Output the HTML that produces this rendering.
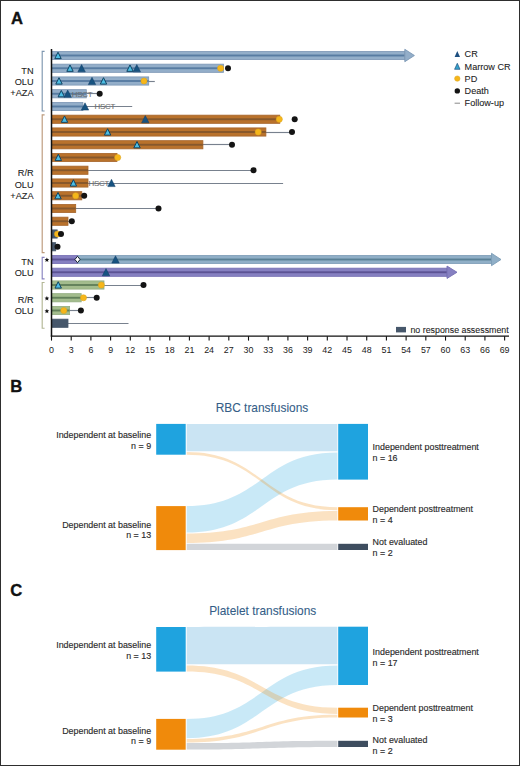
<!DOCTYPE html>
<html><head><meta charset="utf-8"><title>Figure</title>
<style>
html,body{margin:0;padding:0;background:#fff;}
body{width:520px;height:766px;overflow:hidden;}
svg{display:block;font-family:"Liberation Sans", sans-serif;}

</style></head>
<body>
<svg width="520" height="766" viewBox="0 0 520 766">
<rect x="0" y="0" width="520" height="766" fill="#fff"/>
<g id="chartA">
<rect x="51.50" y="51.40" width="353.30" height="8.20" fill="#93aec9" stroke="#7c97b4" stroke-width="0.8"/>
<rect x="51.50" y="54.55" width="353.30" height="1.9" fill="#587ca2"/>
<path d="M404.80,49.30 L414.40,55.50 L404.80,61.70 Z" fill="#93aec9" stroke="#7c97b4" stroke-width="0.9" stroke-linejoin="miter"/>
<path d="M54.80,58.60 L58.00,52.20 L61.20,58.60 Z" fill="#4cbde3" stroke="#0f4464" stroke-width="1.0" stroke-linejoin="miter"/>
<rect x="51.50" y="64.15" width="172.00" height="8.20" fill="#93aec9" stroke="#7c97b4" stroke-width="0.8"/>
<rect x="51.50" y="67.30" width="172.00" height="1.9" fill="#587ca2"/>
<path d="M66.80,71.35 L70.00,64.95 L73.20,71.35 Z" fill="#4cbde3" stroke="#0f4464" stroke-width="1.0" stroke-linejoin="miter"/>
<path d="M77.90,71.85 L81.60,64.55 L85.30,71.85 Z" fill="#175381" stroke="#123f66" stroke-width="0.5"/>
<path d="M126.80,71.35 L130.00,64.95 L133.20,71.35 Z" fill="#4cbde3" stroke="#0f4464" stroke-width="1.0" stroke-linejoin="miter"/>
<path d="M133.10,71.85 L136.80,64.55 L140.50,71.85 Z" fill="#175381" stroke="#123f66" stroke-width="0.5"/>
<circle cx="220.60" cy="68.25" r="3.1" fill="#f6b61a" stroke="#dba41f" stroke-width="0.5"/>
<circle cx="228.00" cy="68.25" r="3.0" fill="#141414"/>
<line x1="148.00" y1="81.50" x2="154.80" y2="81.50" stroke="#78818e" stroke-width="1.15"/>
<rect x="51.50" y="76.90" width="97.20" height="8.20" fill="#93aec9" stroke="#7c97b4" stroke-width="0.8"/>
<rect x="51.50" y="80.05" width="97.20" height="1.9" fill="#587ca2"/>
<path d="M55.80,84.10 L59.00,77.70 L62.20,84.10 Z" fill="#4cbde3" stroke="#0f4464" stroke-width="1.0" stroke-linejoin="miter"/>
<path d="M88.30,84.60 L92.00,77.30 L95.70,84.60 Z" fill="#175381" stroke="#123f66" stroke-width="0.5"/>
<path d="M100.30,84.10 L103.50,77.70 L106.70,84.10 Z" fill="#4cbde3" stroke="#0f4464" stroke-width="1.0" stroke-linejoin="miter"/>
<circle cx="144.00" cy="81.00" r="3.1" fill="#f6b61a" stroke="#dba41f" stroke-width="0.5"/>
<line x1="86.00" y1="93.50" x2="99.70" y2="93.50" stroke="#78818e" stroke-width="1.15"/>
<rect x="51.50" y="89.65" width="34.80" height="8.20" fill="#93aec9" stroke="#7c97b4" stroke-width="0.8"/>
<rect x="51.50" y="92.80" width="34.80" height="1.9" fill="#587ca2"/>
<text x="71.80" y="96.65" font-size="7.9" fill="#6e6e6e" textLength="20.80" stroke="#6e6e6e" stroke-width="0.08">HSCT</text>
<path d="M58.10,96.85 L61.30,90.45 L64.50,96.85 Z" fill="#4cbde3" stroke="#0f4464" stroke-width="1.0" stroke-linejoin="miter"/>
<path d="M64.00,97.35 L67.70,90.05 L71.40,97.35 Z" fill="#175381" stroke="#123f66" stroke-width="0.5"/>
<circle cx="99.70" cy="93.75" r="3.0" fill="#141414"/>
<line x1="82.90" y1="106.50" x2="132.20" y2="106.50" stroke="#78818e" stroke-width="1.15"/>
<rect x="51.50" y="102.40" width="31.40" height="8.20" fill="#93aec9" stroke="#7c97b4" stroke-width="0.8"/>
<rect x="51.50" y="105.55" width="31.40" height="1.9" fill="#587ca2"/>
<text x="94.60" y="109.40" font-size="7.9" fill="#6e6e6e" textLength="20.80" stroke="#6e6e6e" stroke-width="0.08">HSCT</text>
<path d="M81.30,110.10 L85.00,102.80 L88.70,110.10 Z" fill="#175381" stroke="#123f66" stroke-width="0.5"/>
<rect x="51.50" y="115.15" width="228.30" height="8.20" fill="#b9722c" stroke="#a7662c" stroke-width="0.8"/>
<rect x="51.50" y="118.30" width="228.30" height="1.9" fill="#86582c"/>
<path d="M61.30,122.35 L64.50,115.95 L67.70,122.35 Z" fill="#4cbde3" stroke="#0f4464" stroke-width="1.0" stroke-linejoin="miter"/>
<path d="M141.60,122.85 L145.30,115.55 L149.00,122.85 Z" fill="#175381" stroke="#123f66" stroke-width="0.5"/>
<circle cx="279.30" cy="119.25" r="3.1" fill="#f6b61a" stroke="#dba41f" stroke-width="0.5"/>
<circle cx="294.70" cy="119.25" r="3.0" fill="#141414"/>
<line x1="265.90" y1="132.50" x2="292.00" y2="132.50" stroke="#78818e" stroke-width="1.15"/>
<rect x="51.50" y="127.90" width="214.40" height="8.20" fill="#b9722c" stroke="#a7662c" stroke-width="0.8"/>
<rect x="51.50" y="131.05" width="214.40" height="1.9" fill="#86582c"/>
<path d="M104.40,135.10 L107.60,128.70 L110.80,135.10 Z" fill="#4cbde3" stroke="#0f4464" stroke-width="1.0" stroke-linejoin="miter"/>
<circle cx="258.20" cy="132.00" r="3.1" fill="#f6b61a" stroke="#dba41f" stroke-width="0.5"/>
<circle cx="292.00" cy="132.00" r="3.0" fill="#141414"/>
<line x1="202.90" y1="144.50" x2="232.00" y2="144.50" stroke="#78818e" stroke-width="1.15"/>
<rect x="51.50" y="140.65" width="151.40" height="8.20" fill="#b9722c" stroke="#a7662c" stroke-width="0.8"/>
<rect x="51.50" y="143.80" width="151.40" height="1.9" fill="#86582c"/>
<path d="M133.80,147.85 L137.00,141.45 L140.20,147.85 Z" fill="#4cbde3" stroke="#0f4464" stroke-width="1.0" stroke-linejoin="miter"/>
<circle cx="232.00" cy="144.75" r="3.0" fill="#141414"/>
<rect x="51.50" y="153.40" width="65.50" height="8.20" fill="#b9722c" stroke="#a7662c" stroke-width="0.8"/>
<rect x="51.50" y="156.55" width="65.50" height="1.9" fill="#86582c"/>
<path d="M55.10,160.60 L58.30,154.20 L61.50,160.60 Z" fill="#4cbde3" stroke="#0f4464" stroke-width="1.0" stroke-linejoin="miter"/>
<circle cx="117.70" cy="157.50" r="3.1" fill="#f6b61a" stroke="#dba41f" stroke-width="0.5"/>
<line x1="88.00" y1="170.50" x2="253.50" y2="170.50" stroke="#78818e" stroke-width="1.15"/>
<rect x="51.50" y="166.15" width="36.50" height="8.20" fill="#b9722c" stroke="#a7662c" stroke-width="0.8"/>
<rect x="51.50" y="169.30" width="36.50" height="1.9" fill="#86582c"/>
<circle cx="253.50" cy="170.25" r="3.0" fill="#141414"/>
<line x1="88.00" y1="183.50" x2="283.10" y2="183.50" stroke="#78818e" stroke-width="1.15"/>
<rect x="51.50" y="178.90" width="36.50" height="8.20" fill="#b9722c" stroke="#a7662c" stroke-width="0.8"/>
<rect x="51.50" y="182.05" width="36.50" height="1.9" fill="#86582c"/>
<text x="88.60" y="185.90" font-size="7.9" fill="#6e6e6e" textLength="20.80" stroke="#6e6e6e" stroke-width="0.08">HSCT</text>
<path d="M70.20,186.10 L73.40,179.70 L76.60,186.10 Z" fill="#4cbde3" stroke="#0f4464" stroke-width="1.0" stroke-linejoin="miter"/>
<path d="M107.80,186.60 L111.50,179.30 L115.20,186.60 Z" fill="#175381" stroke="#123f66" stroke-width="0.5"/>
<rect x="51.50" y="191.65" width="30.30" height="8.20" fill="#b9722c" stroke="#a7662c" stroke-width="0.8"/>
<rect x="51.50" y="194.80" width="30.30" height="1.9" fill="#86582c"/>
<path d="M54.80,198.85 L58.00,192.45 L61.20,198.85 Z" fill="#4cbde3" stroke="#0f4464" stroke-width="1.0" stroke-linejoin="miter"/>
<circle cx="75.70" cy="195.75" r="3.1" fill="#f6b61a" stroke="#dba41f" stroke-width="0.5"/>
<circle cx="84.20" cy="195.75" r="3.0" fill="#141414"/>
<line x1="75.70" y1="208.50" x2="158.50" y2="208.50" stroke="#78818e" stroke-width="1.15"/>
<rect x="51.50" y="204.40" width="24.20" height="8.20" fill="#b9722c" stroke="#a7662c" stroke-width="0.8"/>
<rect x="51.50" y="207.55" width="24.20" height="1.9" fill="#86582c"/>
<circle cx="158.50" cy="208.50" r="3.0" fill="#141414"/>
<line x1="68.00" y1="221.50" x2="71.80" y2="221.50" stroke="#78818e" stroke-width="1.15"/>
<rect x="51.50" y="217.15" width="16.50" height="8.20" fill="#b9722c" stroke="#a7662c" stroke-width="0.8"/>
<rect x="51.50" y="220.30" width="16.50" height="1.9" fill="#86582c"/>
<circle cx="71.80" cy="221.25" r="3.0" fill="#141414"/>
<rect x="51.50" y="229.90" width="5.70" height="8.20" fill="#46576b" stroke="#46576b" stroke-width="0.8"/>
<rect x="51.50" y="233.05" width="5.70" height="1.9" fill="#46576b"/>
<circle cx="57.50" cy="234.00" r="3.1" fill="#f6b61a" stroke="#dba41f" stroke-width="0.5"/>
<circle cx="61.00" cy="234.00" r="3.0" fill="#141414"/>
<rect x="51.50" y="242.65" width="4.20" height="8.20" fill="#46576b" stroke="#46576b" stroke-width="0.8"/>
<rect x="51.50" y="245.80" width="4.20" height="1.9" fill="#46576b"/>
<circle cx="57.50" cy="246.75" r="3.0" fill="#141414"/>
<rect x="77.30" y="255.40" width="414.20" height="8.20" fill="#90afc7" stroke="#7d9db7" stroke-width="0.8"/>
<rect x="77.30" y="258.55" width="414.20" height="1.9" fill="#5a8096"/>
<path d="M491.50,253.30 L501.00,259.50 L491.50,265.70 Z" fill="#90afc7" stroke="#7d9db7" stroke-width="0.9" stroke-linejoin="miter"/>
<rect x="51.50" y="255.40" width="25.80" height="8.20" fill="#8680c1" stroke="#766fb3" stroke-width="0.8"/>
<rect x="51.50" y="258.55" width="25.80" height="1.9" fill="#5c5394"/>
<path d="M77.50,256.30 L80.10,259.50 L77.50,262.70 L74.90,259.50 Z" fill="#ffffff" stroke="#1b2433" stroke-width="1.0"/>
<path d="M111.80,263.10 L115.50,255.80 L119.20,263.10 Z" fill="#175381" stroke="#123f66" stroke-width="0.5"/>
<rect x="51.50" y="268.15" width="395.50" height="8.20" fill="#8680c1" stroke="#766fb3" stroke-width="0.8"/>
<rect x="51.50" y="271.30" width="395.50" height="1.9" fill="#5c5394"/>
<path d="M447.00,266.05 L457.00,272.25 L447.00,278.45 Z" fill="#8680c1" stroke="#766fb3" stroke-width="0.9" stroke-linejoin="miter"/>
<path d="M102.30,275.85 L106.00,268.55 L109.70,275.85 Z" fill="#175381" stroke="#123f66" stroke-width="0.5"/>
<line x1="104.00" y1="285.50" x2="143.50" y2="285.50" stroke="#78818e" stroke-width="1.15"/>
<rect x="51.50" y="280.90" width="52.50" height="8.20" fill="#a3bc8d" stroke="#93ad80" stroke-width="0.8"/>
<rect x="51.50" y="284.05" width="52.50" height="1.9" fill="#62805a"/>
<path d="M55.00,288.10 L58.20,281.70 L61.40,288.10 Z" fill="#4cbde3" stroke="#0f4464" stroke-width="1.0" stroke-linejoin="miter"/>
<circle cx="101.30" cy="285.00" r="3.1" fill="#f6b61a" stroke="#dba41f" stroke-width="0.5"/>
<circle cx="143.50" cy="285.00" r="3.0" fill="#141414"/>
<line x1="81.20" y1="297.50" x2="96.70" y2="297.50" stroke="#78818e" stroke-width="1.15"/>
<rect x="51.50" y="293.65" width="29.70" height="8.20" fill="#a3bc8d" stroke="#93ad80" stroke-width="0.8"/>
<rect x="51.50" y="296.80" width="29.70" height="1.9" fill="#62805a"/>
<circle cx="83.50" cy="297.75" r="3.1" fill="#f6b61a" stroke="#dba41f" stroke-width="0.5"/>
<circle cx="96.70" cy="297.75" r="3.0" fill="#141414"/>
<line x1="69.60" y1="310.50" x2="80.90" y2="310.50" stroke="#78818e" stroke-width="1.15"/>
<rect x="51.50" y="306.40" width="18.10" height="8.20" fill="#a3bc8d" stroke="#93ad80" stroke-width="0.8"/>
<rect x="51.50" y="309.55" width="18.10" height="1.9" fill="#62805a"/>
<circle cx="63.80" cy="310.50" r="3.1" fill="#f6b61a" stroke="#dba41f" stroke-width="0.5"/>
<circle cx="80.90" cy="310.50" r="3.0" fill="#141414"/>
<line x1="68.00" y1="323.50" x2="128.50" y2="323.50" stroke="#78818e" stroke-width="1.15"/>
<rect x="51.50" y="319.15" width="16.50" height="8.20" fill="#46576b" stroke="#46576b" stroke-width="0.8"/>
<rect x="51.50" y="322.30" width="16.50" height="1.9" fill="#46576b"/>
</g>
<g id="axes">
<line x1="51.5" y1="49" x2="51.5" y2="336.6" stroke="#111" stroke-width="1.5"/>
<line x1="50.8" y1="336.2" x2="509" y2="336.2" stroke="#111" stroke-width="1.3"/>
<line x1="51.50" y1="336.2" x2="51.50" y2="340.6" stroke="#111" stroke-width="1.1"/>
<text x="51.50" y="353" font-size="8.9" fill="#222" text-anchor="middle">0</text>
<line x1="71.20" y1="336.2" x2="71.20" y2="340.6" stroke="#111" stroke-width="1.1"/>
<text x="71.20" y="353" font-size="8.9" fill="#222" text-anchor="middle">3</text>
<line x1="90.90" y1="336.2" x2="90.90" y2="340.6" stroke="#111" stroke-width="1.1"/>
<text x="90.90" y="353" font-size="8.9" fill="#222" text-anchor="middle">6</text>
<line x1="110.60" y1="336.2" x2="110.60" y2="340.6" stroke="#111" stroke-width="1.1"/>
<text x="110.60" y="353" font-size="8.9" fill="#222" text-anchor="middle">9</text>
<line x1="130.30" y1="336.2" x2="130.30" y2="340.6" stroke="#111" stroke-width="1.1"/>
<text x="130.30" y="353" font-size="8.9" fill="#222" text-anchor="middle">12</text>
<line x1="150.00" y1="336.2" x2="150.00" y2="340.6" stroke="#111" stroke-width="1.1"/>
<text x="150.00" y="353" font-size="8.9" fill="#222" text-anchor="middle">15</text>
<line x1="169.71" y1="336.2" x2="169.71" y2="340.6" stroke="#111" stroke-width="1.1"/>
<text x="169.71" y="353" font-size="8.9" fill="#222" text-anchor="middle">18</text>
<line x1="189.41" y1="336.2" x2="189.41" y2="340.6" stroke="#111" stroke-width="1.1"/>
<text x="189.41" y="353" font-size="8.9" fill="#222" text-anchor="middle">21</text>
<line x1="209.11" y1="336.2" x2="209.11" y2="340.6" stroke="#111" stroke-width="1.1"/>
<text x="209.11" y="353" font-size="8.9" fill="#222" text-anchor="middle">24</text>
<line x1="228.81" y1="336.2" x2="228.81" y2="340.6" stroke="#111" stroke-width="1.1"/>
<text x="228.81" y="353" font-size="8.9" fill="#222" text-anchor="middle">27</text>
<line x1="248.51" y1="336.2" x2="248.51" y2="340.6" stroke="#111" stroke-width="1.1"/>
<text x="248.51" y="353" font-size="8.9" fill="#222" text-anchor="middle">30</text>
<line x1="268.21" y1="336.2" x2="268.21" y2="340.6" stroke="#111" stroke-width="1.1"/>
<text x="268.21" y="353" font-size="8.9" fill="#222" text-anchor="middle">33</text>
<line x1="287.91" y1="336.2" x2="287.91" y2="340.6" stroke="#111" stroke-width="1.1"/>
<text x="287.91" y="353" font-size="8.9" fill="#222" text-anchor="middle">36</text>
<line x1="307.61" y1="336.2" x2="307.61" y2="340.6" stroke="#111" stroke-width="1.1"/>
<text x="307.61" y="353" font-size="8.9" fill="#222" text-anchor="middle">39</text>
<line x1="327.31" y1="336.2" x2="327.31" y2="340.6" stroke="#111" stroke-width="1.1"/>
<text x="327.31" y="353" font-size="8.9" fill="#222" text-anchor="middle">42</text>
<line x1="347.01" y1="336.2" x2="347.01" y2="340.6" stroke="#111" stroke-width="1.1"/>
<text x="347.01" y="353" font-size="8.9" fill="#222" text-anchor="middle">45</text>
<line x1="366.72" y1="336.2" x2="366.72" y2="340.6" stroke="#111" stroke-width="1.1"/>
<text x="366.72" y="353" font-size="8.9" fill="#222" text-anchor="middle">48</text>
<line x1="386.42" y1="336.2" x2="386.42" y2="340.6" stroke="#111" stroke-width="1.1"/>
<text x="386.42" y="353" font-size="8.9" fill="#222" text-anchor="middle">51</text>
<line x1="406.12" y1="336.2" x2="406.12" y2="340.6" stroke="#111" stroke-width="1.1"/>
<text x="406.12" y="353" font-size="8.9" fill="#222" text-anchor="middle">54</text>
<line x1="425.82" y1="336.2" x2="425.82" y2="340.6" stroke="#111" stroke-width="1.1"/>
<text x="425.82" y="353" font-size="8.9" fill="#222" text-anchor="middle">57</text>
<line x1="445.52" y1="336.2" x2="445.52" y2="340.6" stroke="#111" stroke-width="1.1"/>
<text x="445.52" y="353" font-size="8.9" fill="#222" text-anchor="middle">60</text>
<line x1="465.22" y1="336.2" x2="465.22" y2="340.6" stroke="#111" stroke-width="1.1"/>
<text x="465.22" y="353" font-size="8.9" fill="#222" text-anchor="middle">63</text>
<line x1="484.92" y1="336.2" x2="484.92" y2="340.6" stroke="#111" stroke-width="1.1"/>
<text x="484.92" y="353" font-size="8.9" fill="#222" text-anchor="middle">66</text>
<line x1="504.62" y1="336.2" x2="504.62" y2="340.6" stroke="#111" stroke-width="1.1"/>
<text x="504.62" y="353" font-size="8.9" fill="#222" text-anchor="middle">69</text>
<path d="M44.6,51.40 H42.2 V111.00 H44.6" fill="none" stroke="#7f97b0" stroke-width="1.15"/>
<path d="M44.6,114.80 H42.2 V252.60 H44.6" fill="none" stroke="#bc9a7c" stroke-width="1.15"/>
<path d="M44.6,257.30 H42.2 V278.80 H44.6" fill="none" stroke="#8984c0" stroke-width="1.15"/>
<path d="M44.6,282.50 H42.2 V328.20 H44.6" fill="none" stroke="#b3b796" stroke-width="1.15"/>
<text x="33.6" y="73.50" font-size="9.2" fill="#222" text-anchor="end" stroke="#222" stroke-width="0.08">TN</text>
<text x="33.6" y="84.60" font-size="9.2" fill="#222" text-anchor="end" stroke="#222" stroke-width="0.08">OLU</text>
<text x="33.6" y="95.70" font-size="9.2" fill="#222" text-anchor="end" stroke="#222" stroke-width="0.08">+AZA</text>
<text x="33.6" y="176.40" font-size="9.2" fill="#222" text-anchor="end" stroke="#222" stroke-width="0.08">R/R</text>
<text x="33.6" y="187.50" font-size="9.2" fill="#222" text-anchor="end" stroke="#222" stroke-width="0.08">OLU</text>
<text x="33.6" y="198.60" font-size="9.2" fill="#222" text-anchor="end" stroke="#222" stroke-width="0.08">+AZA</text>
<text x="33.6" y="265.10" font-size="9.2" fill="#222" text-anchor="end" stroke="#222" stroke-width="0.08">TN</text>
<text x="33.6" y="276.20" font-size="9.2" fill="#222" text-anchor="end" stroke="#222" stroke-width="0.08">OLU</text>
<text x="33.6" y="303.10" font-size="9.2" fill="#222" text-anchor="end" stroke="#222" stroke-width="0.08">R/R</text>
<text x="33.6" y="314.20" font-size="9.2" fill="#222" text-anchor="end" stroke="#222" stroke-width="0.08">OLU</text>
<polygon points="46.90,257.40 47.56,258.99 49.28,259.13 47.97,260.25 48.37,261.92 46.90,261.02 45.43,261.92 45.83,260.25 44.52,259.13 46.24,258.99" fill="#111"/>
<polygon points="46.90,295.90 47.56,297.49 49.28,297.63 47.97,298.75 48.37,300.42 46.90,299.52 45.43,300.42 45.83,298.75 44.52,297.63 46.24,297.49" fill="#111"/>
<polygon points="46.90,308.70 47.56,310.29 49.28,310.43 47.97,311.55 48.37,313.22 46.90,312.32 45.43,313.22 45.83,311.55 44.52,310.43 46.24,310.29" fill="#111"/>
<path d="M454.60,57.00 L457.30,51.00 L460.00,57.00 Z" fill="#1d4f80"/>
<path d="M454.60,69.30 L457.30,63.30 L460.00,69.30 Z" fill="#35a3cc" stroke="#1d4f80" stroke-width="0.7"/>
<circle cx="457.3" cy="78.60" r="2.7" fill="#f6b61a" stroke="#dba41f" stroke-width="0.5"/>
<circle cx="457.3" cy="90.90" r="2.7" fill="#141414"/>
<line x1="454.6" y1="103.20" x2="460.0" y2="103.20" stroke="#888" stroke-width="1"/>
<text x="464.6" y="57.20" font-size="9.1" fill="#222" stroke="#222" stroke-width="0.08">CR</text>
<text x="464.6" y="69.50" font-size="9.1" fill="#222" stroke="#222" stroke-width="0.08">Marrow CR</text>
<text x="464.6" y="81.80" font-size="9.1" fill="#222" stroke="#222" stroke-width="0.08">PD</text>
<text x="464.6" y="94.10" font-size="9.1" fill="#222" stroke="#222" stroke-width="0.08">Death</text>
<text x="464.6" y="106.40" font-size="9.1" fill="#222" stroke="#222" stroke-width="0.08">Follow-up</text>
<rect x="396" y="326.9" width="10" height="5.5" fill="#46576b"/>
<text x="410.4" y="332.7" font-size="8.85" fill="#222" stroke="#222" stroke-width="0.08">no response assessment</text>
</g>
<g id="sankey">
<text x="215.7" y="411.6" font-size="11.9" fill="#345d87" stroke="#345d87" stroke-width="0.08">RBC transfusions</text>
<path d="M186.70,423.90 C262.05,423.90 262.05,423.90 337.40,423.90 L337.40,451.20 C262.05,451.20 262.05,451.20 186.70,451.20 Z" fill="#cae4f3" fill-opacity="1.0"/>
<path d="M186.70,506.10 C262.05,506.10 262.05,452.40 337.40,452.40 L337.40,479.60 C262.05,479.60 262.05,532.60 186.70,532.60 Z" fill="#1fa3df" fill-opacity="0.24"/>
<path d="M186.70,452.00 C262.05,452.00 262.05,507.20 337.40,507.20 L337.40,510.20 C262.05,510.20 262.05,454.70 186.70,454.70 Z" fill="#f08a0b" fill-opacity="0.25"/>
<path d="M186.70,533.40 C262.05,533.40 262.05,510.90 337.40,510.90 L337.40,520.50 C262.05,520.50 262.05,543.10 186.70,543.10 Z" fill="#f08a0b" fill-opacity="0.25"/>
<path d="M186.70,543.80 C262.05,543.80 262.05,543.80 337.40,543.80 L337.40,550.00 C262.05,550.00 262.05,550.00 186.70,550.00 Z" fill="#d2d5d9" fill-opacity="1.0"/>
<rect x="156.2" y="423.9" width="29.50" height="30.80" fill="#1fa3df"/>
<rect x="156.2" y="506.1" width="29.50" height="44.00" fill="#f08a0b"/>
<rect x="338.2" y="423.9" width="29.80" height="55.70" fill="#1fa3df"/>
<rect x="338.2" y="507.2" width="29.80" height="13.30" fill="#f08a0b"/>
<rect x="338.2" y="543.8" width="29.80" height="6.20" fill="#3e4d5f"/>
<text transform="translate(151.1 438.10) scale(0.95 1)" font-size="9.37" fill="#2a2a2a" text-anchor="end" stroke="#2a2a2a" stroke-width="0.14">Independent at baseline</text>
<text transform="translate(151.1 448.70) scale(0.95 1)" font-size="9.37" fill="#2a2a2a" text-anchor="end" stroke="#2a2a2a" stroke-width="0.14">n = 9</text>
<text transform="translate(151.1 527.60) scale(0.95 1)" font-size="9.37" fill="#2a2a2a" text-anchor="end" stroke="#2a2a2a" stroke-width="0.14">Dependent at baseline</text>
<text transform="translate(151.1 538.20) scale(0.95 1)" font-size="9.37" fill="#2a2a2a" text-anchor="end" stroke="#2a2a2a" stroke-width="0.14">n = 13</text>
<text transform="translate(372.6 450.30) scale(0.95 1)" font-size="9.37" fill="#2a2a2a" text-anchor="start" stroke="#2a2a2a" stroke-width="0.14">Independent posttreatment</text>
<text transform="translate(372.6 461.20) scale(0.95 1)" font-size="9.37" fill="#2a2a2a" text-anchor="start" stroke="#2a2a2a" stroke-width="0.14">n = 16</text>
<text transform="translate(372.6 512.20) scale(0.95 1)" font-size="9.37" fill="#2a2a2a" text-anchor="start" stroke="#2a2a2a" stroke-width="0.14">Dependent posttreatment</text>
<text transform="translate(372.6 523.20) scale(0.95 1)" font-size="9.37" fill="#2a2a2a" text-anchor="start" stroke="#2a2a2a" stroke-width="0.14">n = 4</text>
<text transform="translate(372.6 545.00) scale(0.95 1)" font-size="9.37" fill="#2a2a2a" text-anchor="start" stroke="#2a2a2a" stroke-width="0.14">Not evaluated</text>
<text transform="translate(372.6 556.00) scale(0.95 1)" font-size="9.37" fill="#2a2a2a" text-anchor="start" stroke="#2a2a2a" stroke-width="0.14">n = 2</text>
<text x="209.2" y="614.6" font-size="11.9" fill="#345d87" stroke="#345d87" stroke-width="0.08">Platelet transfusions</text>
<path d="M186.70,627.00 C262.05,627.00 262.05,626.70 337.40,626.70 L337.40,664.30 C262.05,664.30 262.05,664.30 186.70,664.30 Z" fill="#cae4f3" fill-opacity="1.0"/>
<path d="M186.70,718.90 C262.05,718.90 262.05,665.40 337.40,665.40 L337.40,685.00 C262.05,685.00 262.05,738.20 186.70,738.20 Z" fill="#1fa3df" fill-opacity="0.24"/>
<path d="M186.70,665.60 C262.05,665.60 262.05,707.70 337.40,707.70 L337.40,714.00 C262.05,714.00 262.05,671.60 186.70,671.60 Z" fill="#f08a0b" fill-opacity="0.25"/>
<path d="M186.70,739.00 C262.05,739.00 262.05,714.70 337.40,714.70 L337.40,717.50 C262.05,717.50 262.05,742.50 186.70,742.50 Z" fill="#f08a0b" fill-opacity="0.25"/>
<path d="M186.70,743.10 C262.05,743.10 262.05,740.80 337.40,740.80 L337.40,747.00 C262.05,747.00 262.05,749.60 186.70,749.60 Z" fill="#d2d5d9" fill-opacity="1.0"/>
<rect x="156.2" y="627.0" width="29.50" height="44.60" fill="#1fa3df"/>
<rect x="156.2" y="718.9" width="29.50" height="30.80" fill="#f08a0b"/>
<rect x="338.2" y="626.7" width="29.80" height="58.30" fill="#1fa3df"/>
<rect x="338.2" y="707.7" width="29.80" height="9.80" fill="#f08a0b"/>
<rect x="338.2" y="740.8" width="29.80" height="6.20" fill="#3e4d5f"/>
<text transform="translate(151.1 648.00) scale(0.95 1)" font-size="9.37" fill="#2a2a2a" text-anchor="end" stroke="#2a2a2a" stroke-width="0.14">Independent at baseline</text>
<text transform="translate(151.1 658.60) scale(0.95 1)" font-size="9.37" fill="#2a2a2a" text-anchor="end" stroke="#2a2a2a" stroke-width="0.14">n = 13</text>
<text transform="translate(151.1 733.60) scale(0.95 1)" font-size="9.37" fill="#2a2a2a" text-anchor="end" stroke="#2a2a2a" stroke-width="0.14">Dependent at baseline</text>
<text transform="translate(151.1 743.60) scale(0.95 1)" font-size="9.37" fill="#2a2a2a" text-anchor="end" stroke="#2a2a2a" stroke-width="0.14">n = 9</text>
<text transform="translate(372.6 654.60) scale(0.95 1)" font-size="9.37" fill="#2a2a2a" text-anchor="start" stroke="#2a2a2a" stroke-width="0.14">Independent posttreatment</text>
<text transform="translate(372.6 665.60) scale(0.95 1)" font-size="9.37" fill="#2a2a2a" text-anchor="start" stroke="#2a2a2a" stroke-width="0.14">n = 17</text>
<text transform="translate(372.6 711.00) scale(0.95 1)" font-size="9.37" fill="#2a2a2a" text-anchor="start" stroke="#2a2a2a" stroke-width="0.14">Dependent posttreatment</text>
<text transform="translate(372.6 722.00) scale(0.95 1)" font-size="9.37" fill="#2a2a2a" text-anchor="start" stroke="#2a2a2a" stroke-width="0.14">n = 3</text>
<text transform="translate(372.6 742.50) scale(0.95 1)" font-size="9.37" fill="#2a2a2a" text-anchor="start" stroke="#2a2a2a" stroke-width="0.14">Not evaluated</text>
<text transform="translate(372.6 753.60) scale(0.95 1)" font-size="9.37" fill="#2a2a2a" text-anchor="start" stroke="#2a2a2a" stroke-width="0.14">n = 2</text>
</g>
<text x="11.0" y="23.8" font-size="16.6" font-weight="bold" fill="#111" stroke="#111" stroke-width="0.35">A</text><text x="10.2" y="391.9" font-size="16.6" font-weight="bold" fill="#111" stroke="#111" stroke-width="0.35">B</text><text x="10.2" y="595.7" font-size="16.6" font-weight="bold" fill="#111" stroke="#111" stroke-width="0.35">C</text>
<rect x="0.5" y="0.5" width="519" height="765" fill="none" stroke="#2e2e2e" stroke-width="1"/>
</svg>
</body></html>
